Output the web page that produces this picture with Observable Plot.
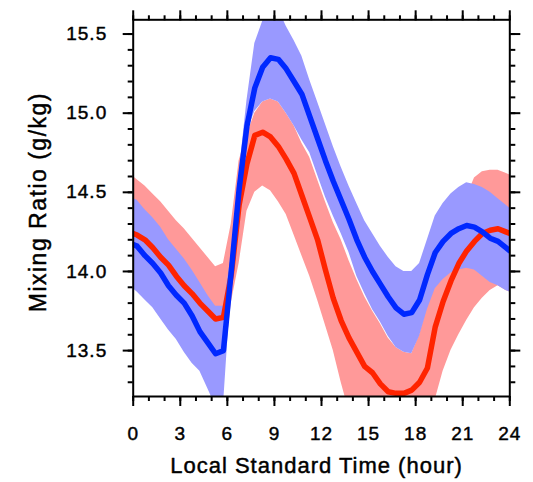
<!DOCTYPE html>
<html>
<head>
<meta charset="utf-8">
<script src="https://cdn.jsdelivr.net/npm/d3@7"></script>
<script src="https://cdn.jsdelivr.net/npm/@observablehq/plot@0.6"></script>
<style>
  html, body { margin: 0; padding: 0; background: #fff; }
</style>
</head>
<body>
<div id="chart"></div>
<script>
// Local standard time (hour)
const hours = [0, 0.25, 0.75, 1.25, 1.75, 2.25, 2.75, 3.25, 3.75, 4.25, 4.75, 5.25, 5.75, 6.25, 6.75, 7.25, 7.75, 8.25, 8.75, 9.25, 9.75, 10.25, 10.75, 11.25, 11.75, 12.25, 12.75, 13.25, 13.75, 14.25, 14.75, 15.25, 15.75, 16.25, 16.75, 17.25, 17.75, 18.25, 18.75, 19.25, 19.75, 20.25, 20.75, 21.25, 21.75, 22.25, 22.75, 23.25, 23.75, 24];

// Red series (mean and band)
const redMean  = [14.24, 14.23, 14.20, 14.15, 14.09, 14.04, 13.97, 13.91, 13.86, 13.80, 13.75, 13.70, 13.71, 13.98, 14.42, 14.68, 14.86, 14.88, 14.85, 14.79, 14.71, 14.62, 14.48, 14.34, 14.20, 14.01, 13.83, 13.69, 13.58, 13.49, 13.40, 13.36, 13.29, 13.24, 13.23, 13.23, 13.25, 13.30, 13.39, 13.65, 13.81, 13.94, 14.05, 14.13, 14.19, 14.24, 14.26, 14.27, 14.25, 14.24];
const redUpper = [14.60, 14.58, 14.54, 14.49, 14.44, 14.38, 14.32, 14.27, 14.21, 14.15, 14.09, 14.03, 14.05, 14.30, 14.70, 14.86, 15.00, 15.07, 15.09, 15.07, 15.00, 14.92, 14.81, 14.72, 14.58, 14.44, 14.31, 14.20, 14.07, 13.95, 13.84, 13.75, 13.67, 13.58, 13.52, 13.49, 13.48, 13.60, 13.78, 13.95, 14.10, 14.22, 14.33, 14.47, 14.59, 14.63, 14.64, 14.64, 14.62, 14.61];
const redLower = [13.92, 13.90, 13.86, 13.81, 13.75, 13.68, 13.62, 13.55, 13.48, 13.43, 13.36, 13.30, 13.35, 13.80, 14.05, 14.38, 14.50, 14.54, 14.51, 14.44, 14.36, 14.23, 14.10, 13.97, 13.82, 13.66, 13.50, 13.30, 13.12, 13.00, 12.92, 12.88, 12.84, 12.80, 12.78, 12.78, 12.80, 12.86, 12.98, 13.19, 13.37, 13.50, 13.60, 13.69, 13.77, 13.83, 13.88, 13.91, 13.88, 13.87];

// Blue series (mean and band)
const blueMean  = [14.17, 14.16, 14.10, 14.05, 13.99, 13.91, 13.85, 13.80, 13.72, 13.62, 13.55, 13.48, 13.50, 14.00, 14.52, 14.92, 15.16, 15.29, 15.35, 15.34, 15.28, 15.20, 15.12, 14.98, 14.84, 14.70, 14.57, 14.45, 14.33, 14.20, 14.09, 14.00, 13.92, 13.84, 13.77, 13.73, 13.74, 13.82, 13.98, 14.12, 14.19, 14.24, 14.27, 14.29, 14.28, 14.25, 14.21, 14.19, 14.15, 14.13];
const blueUpper = [14.46, 14.45, 14.39, 14.34, 14.28, 14.20, 14.14, 14.08, 14.01, 13.93, 13.85, 13.78, 13.78, 14.10, 14.62, 15.08, 15.44, 15.58, 15.66, 15.66, 15.55, 15.46, 15.36, 15.21, 15.07, 14.93, 14.79, 14.66, 14.54, 14.43, 14.32, 14.24, 14.16, 14.09, 14.03, 14.00, 14.00, 14.05, 14.20, 14.35, 14.43, 14.49, 14.53, 14.56, 14.55, 14.53, 14.50, 14.46, 14.42, 14.40];
const blueLower = [13.89, 13.87, 13.82, 13.77, 13.70, 13.63, 13.57, 13.49, 13.42, 13.37, 13.26, 13.15, 13.15, 13.90, 14.48, 14.88, 15.01, 15.07, 15.09, 15.07, 15.00, 14.92, 14.83, 14.75, 14.61, 14.47, 14.35, 14.24, 14.12, 13.97, 13.86, 13.76, 13.68, 13.59, 13.52, 13.49, 13.48, 13.59, 13.76, 13.89, 13.95, 13.99, 14.01, 14.02, 14.01, 13.97, 13.93, 13.91, 13.88, 13.87];

// Ticks
const xMajorTicks = [0, 3, 6, 9, 12, 15, 18, 21, 24];
const xMinorTicks = [0, 1, 2, 3, 4, 5, 6, 7, 8, 9, 10, 11, 12, 13, 14, 15, 16, 17, 18, 19, 20, 21, 22, 23, 24];
const yMajorTicks = [13.5, 14.0, 14.5, 15.0, 15.5];
const yMinorTicks = [13.3, 13.4, 13.5, 13.6, 13.7, 13.8, 13.9, 14.0, 14.1, 14.2, 14.3, 14.4, 14.5, 14.6, 14.7, 14.8, 14.9, 15.0, 15.1, 15.2, 15.3, 15.4, 15.5];

const xTitle = "Local Standard Time (hour)";
const yTitle = "Mixing Ratio (g/kg)";

const rows = hours.map((h, i) => ({
  h,
  rm: redMean[i], ru: redUpper[i], rl: redLower[i],
  bm: blueMean[i], bu: blueUpper[i], bl: blueLower[i]
}));

const font = "'Liberation Sans', Arial, Helvetica, sans-serif";
const heavy = {textStroke: "black", textStrokeWidth: 0.45};

const chart = Plot.plot({
  width: 533,
  height: 482,
  marginLeft: 132.7,
  marginRight: 23.7,
  marginTop: 19.3,
  marginBottom: 86,
  x: {domain: [0, 24]},
  y: {domain: [13.21, 15.59]},
  style: {fontFamily: font, fontSize: "19px", color: "black", background: "white", letterSpacing: "1px"},
  marks: [
    Plot.areaY(rows, {x: "h", y1: "rl", y2: "ru", fill: "#ff9999", clip: true}),
    Plot.areaY(rows, {x: "h", y1: "bl", y2: "bu", fill: "#9999ff", clip: true}),
    Plot.line(rows, {x: "h", y: "rm", stroke: "#ff2400", strokeWidth: 5.5, strokeLinejoin: "round", clip: true}),
    Plot.line(rows, {x: "h", y: "bm", stroke: "#0028ff", strokeWidth: 5.5, strokeLinejoin: "round", clip: true}),
    Plot.frame({stroke: "black", strokeWidth: 2}),
    // bottom axis
    Plot.axisX({anchor: "bottom", ticks: xMajorTicks, tickSize: 10, strokeWidth: 2, tickPadding: 20, tickFormat: d => String(d), label: null, fontSize: 19, ...heavy}),
    Plot.axisX({anchor: "bottom", ticks: xMinorTicks, tickSize: 5, strokeWidth: 2, fill: "none", label: null}),
    // top axis
    Plot.axisX({anchor: "top", ticks: xMajorTicks, tickSize: 10, strokeWidth: 2, fill: "none", label: null}),
    Plot.axisX({anchor: "top", ticks: xMinorTicks, tickSize: 5, strokeWidth: 2, fill: "none", label: null}),
    // left axis
    Plot.axisY({anchor: "left", ticks: yMajorTicks, tickSize: 10, strokeWidth: 2, tickPadding: 16, tickFormat: d => d.toFixed(1), label: null, fontSize: 19, ...heavy}),
    Plot.axisY({anchor: "left", ticks: yMinorTicks, tickSize: 5, strokeWidth: 2, fill: "none", label: null}),
    // right axis
    Plot.axisY({anchor: "right", ticks: yMajorTicks, tickSize: 10, strokeWidth: 2, fill: "none", label: null}),
    Plot.axisY({anchor: "right", ticks: yMinorTicks, tickSize: 5, strokeWidth: 2, fill: "none", label: null}),
    // axis titles
    Plot.text([xTitle], {frameAnchor: "bottom", text: d => d, textAnchor: "middle", lineAnchor: "bottom", dy: 76, dx: -5, fontSize: 22, fill: "black", stroke: "black", strokeWidth: 0.45}),
    Plot.text([yTitle], {frameAnchor: "left", text: d => d, textAnchor: "middle", rotate: -90, lineAnchor: "bottom", dx: -87, dy: -6, fontSize: 23, fill: "black", stroke: "black", strokeWidth: 0.45})
  ]
});

d3.select(chart).selectAll("text")
  .filter(function() { return this.textContent === yTitle; })
  .style("letter-spacing", "1.5px");

document.getElementById("chart").appendChild(chart);
</script>
</body>
</html>
